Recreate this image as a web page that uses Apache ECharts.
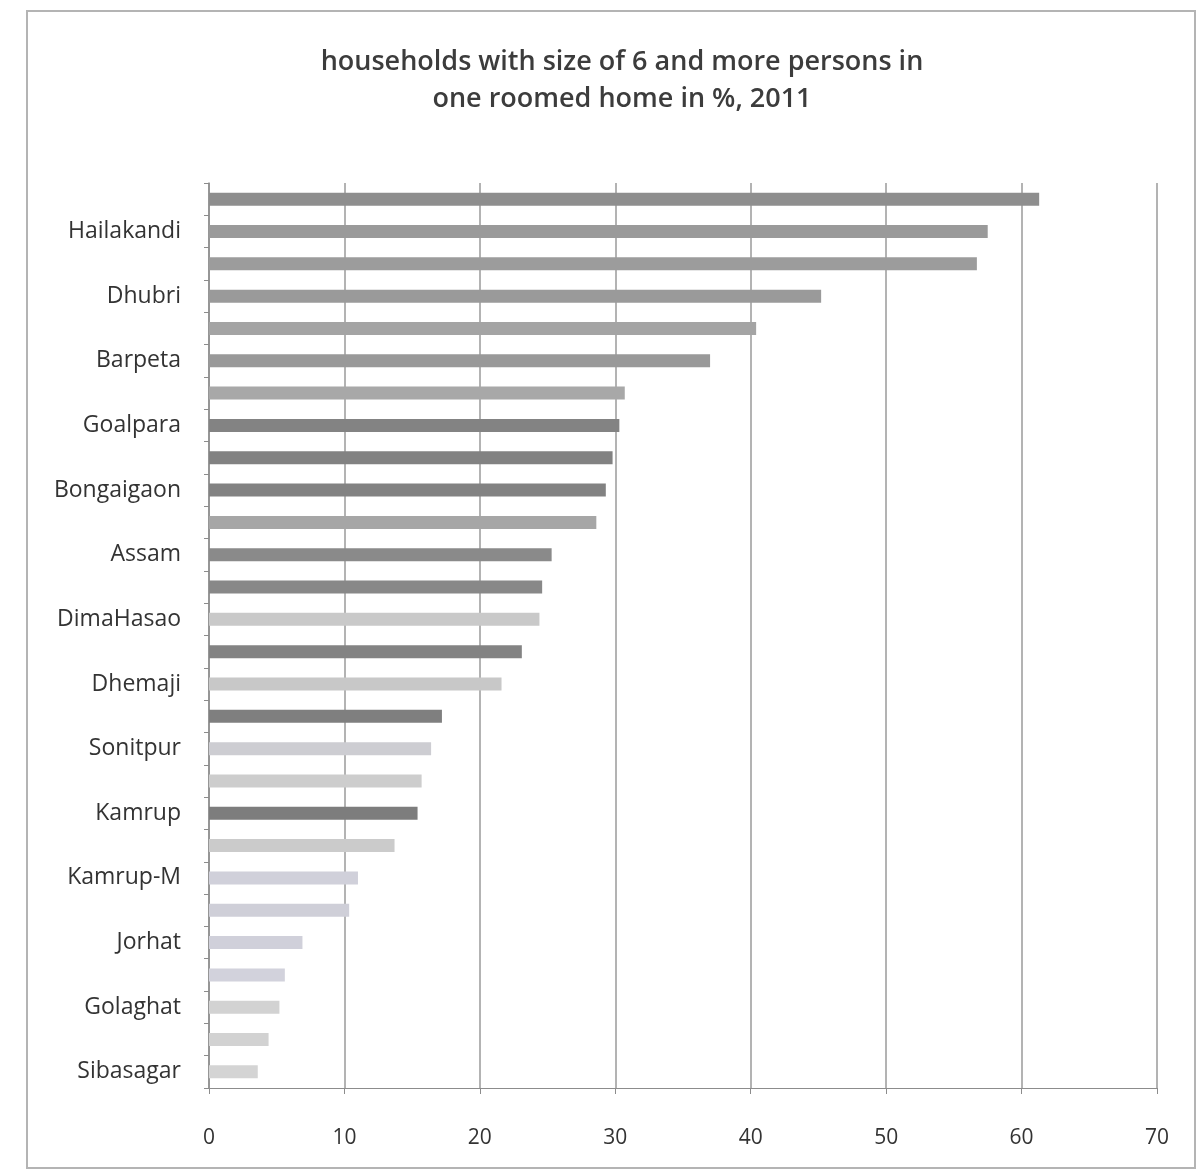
<!DOCTYPE html>
<html>
<head>
<meta charset="utf-8">
<script src="https://cdn.jsdelivr.net/npm/echarts@6/dist/echarts.min.js"></script>
<style>
  html, body { margin: 0; padding: 0; background: #fff; }
  #chart { width: 1199px; height: 1176px; }
</style>
</head>
<body>
<div id="chart"></div>
<script>
// Districts of Assam (plus the state figure), top to bottom
const districts = [
  'Karimganj', 'Hailakandi', 'Cachar', 'Dhubri', 'Morigaon', 'Barpeta', 'Nagaon',
  'Goalpara', 'Darrang', 'Bongaigaon', 'Chirang', 'Assam', 'Kokrajhar', 'DimaHasao',
  'Nalbari', 'Dhemaji', 'Baksa', 'Sonitpur', 'Lakhimpur', 'Kamrup', 'Udalguri',
  'Kamrup-M', 'Tinsukia', 'Jorhat', 'Dibrugarh', 'Golaghat', 'KarbiAnglong', 'Sibasagar'
];

// Share of households with 6+ persons living in one room, %
const sharePct = [
  61.3, 57.5, 56.7, 45.2, 40.4, 37.0, 30.7,
  30.3, 29.8, 29.3, 28.6, 25.3, 24.6, 24.4,
  23.1, 21.6, 17.2, 16.4, 15.7, 15.4, 13.7,
  11.0, 10.35, 6.9, 5.6, 5.2, 4.4, 3.6
];

// X axis ticks
const xTicks = [0, 10, 20, 30, 40, 50, 60, 70];

// Bar shades
const barColors = [
  '#8e8e8e', '#9a9a9a', '#9c9c9c', '#9a9a9a', '#a4a4a4', '#999999', '#a8a8a8',
  '#838383', '#828282', '#828282', '#a6a6a6', '#8a8a8a', '#888888', '#c9c9c9',
  '#838383', '#c8c8c8', '#7f7f7f', '#cdcdd2', '#cdcdcd', '#7d7d7d', '#cbcbcb',
  '#d0d0da', '#cfcfd8', '#d0d0da', '#d2d2dc', '#d2d2d2', '#d2d2d2', '#d4d4d4'
];

const chart = echarts.init(document.getElementById('chart'), null, { renderer: 'canvas' });

const labelFont = '"Open Sans", Lato, "DejaVu Sans", sans-serif';

chart.setOption({
  backgroundColor: '#ffffff',
  animation: false,
  title: {
    text: 'households with size of 6 and more persons in\none roomed home in %, 2011',
    left: 617,
    top: 39,
    textAlign: 'center',
    textStyle: {
      fontFamily: labelFont,
      fontSize: 27,
      fontWeight: 600,
      color: '#3c3c3c',
      lineHeight: 37
    }
  },
  graphic: [{
    type: 'rect',
    shape: { x: 27, y: 11, width: 1168, height: 1157 },
    style: { fill: 'none', stroke: '#b4b4b4', lineWidth: 2 },
    silent: true,
    z: -1
  }],
  grid: {
    left: 209,
    right: 42,
    top: 183,
    bottom: 88,
    containLabel: false
  },
  xAxis: {
    type: 'value',
    min: xTicks[0],
    max: xTicks[xTicks.length - 1],
    interval: 10,
    axisLine: { show: true, lineStyle: { color: '#8c8c8c', width: 1 } },
    axisTick: { show: true, length: 6, lineStyle: { color: '#8c8c8c' } },
    splitLine: { show: true, lineStyle: { color: '#9a9a9a', width: 1.5 } },
    axisLabel: {
      margin: 40,
      fontFamily: labelFont,
      fontSize: 21,
      color: '#333333'
    }
  },
  yAxis: {
    type: 'category',
    data: districts,
    inverse: true,
    axisLine: { show: true, lineStyle: { color: '#8c8c8c', width: 1.5 } },
    axisTick: { show: true, interval: 0, length: 5, alignWithLabel: false, lineStyle: { color: '#8c8c8c' } },
    splitLine: { show: false },
    axisLabel: {
      interval: function (index) { return index % 2 === 1; },
      margin: 28,
      fontFamily: labelFont,
      fontSize: 23,
      color: '#333333'
    }
  },
  series: [{
    type: 'bar',
    barWidth: 13,
    data: sharePct.map(function (v, i) {
      return { value: v, itemStyle: { color: barColors[i] } };
    })
  }]
});
</script>
</body>
</html>
